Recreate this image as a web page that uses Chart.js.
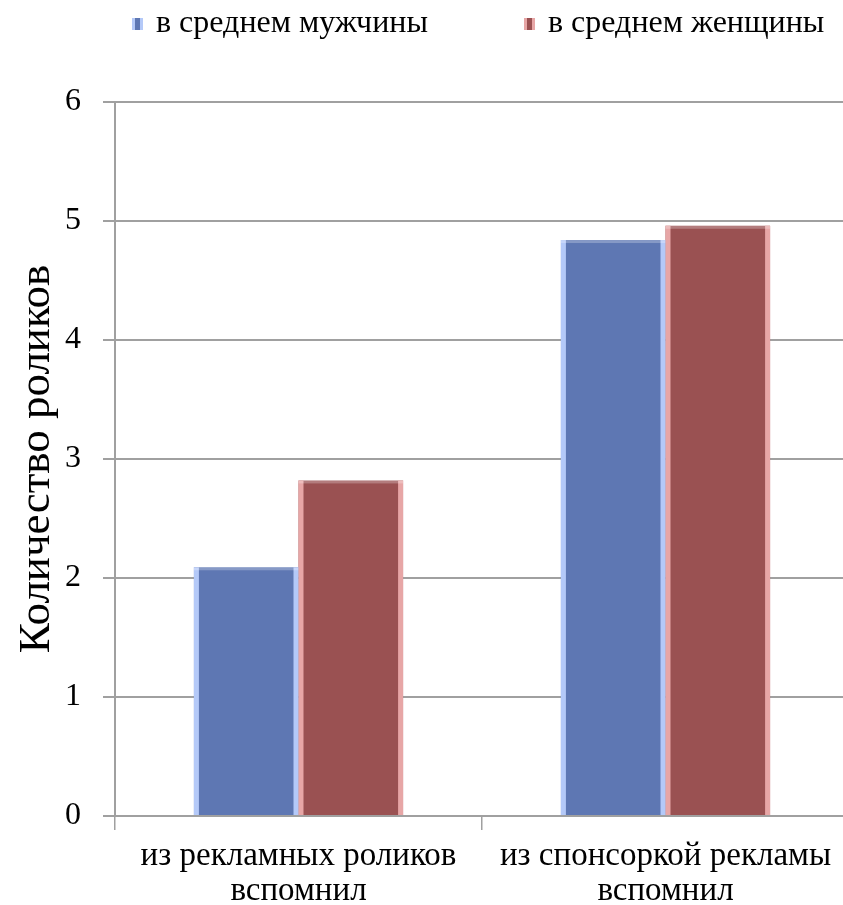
<!DOCTYPE html>
<html>
<head>
<meta charset="utf-8">
<script src="https://cdn.jsdelivr.net/npm/chart.js@4"></script>
<style>
  html, body { margin: 0; padding: 0; background: #fff; overflow: hidden; }
  #wrap { width: 843px; height: 905px; overflow: hidden; }
</style>
</head>
<body>
<div id="wrap"><canvas id="chartCanvas" width="851" height="905"></canvas></div>
<script>
// данные с картинки
const categories = [['из рекламных роликов', 'вспомнил'], ['из спонсоркой рекламы', 'вспомнил']]
const seriesNames = ['в среднем мужчины', 'в среднем женщины']
const men = [2.09, 4.84]
const women = [2.82, 4.96]
const yTicks = [0, 1, 2, 3, 4, 5, 6]

const serif = '"Liberation Serif", "DejaVu Serif", serif'
const colors = ['#5e77b3', '#9a5152']
const lightColors = ['rgba(190,210,255,0.9)', 'rgba(240,175,175,0.9)']

// светлая кайма по краям столбцов (скос как в Excel)
const bevel = {
  id: 'bevel',
  afterDatasetsDraw(chart) {
    const ctx = chart.ctx
    chart.data.datasets.forEach((ds, i) => {
      chart.getDatasetMeta(i).data.forEach(bar => {
        const l = bar.x - bar.width / 2, r = bar.x + bar.width / 2
        const t = bar.y, b = bar.base
        ctx.save()
        ctx.fillStyle = lightColors[i]
        ctx.fillRect(l, t, 5, b - t)
        ctx.fillRect(r - 5, t, 5, b - t)
        ctx.fillStyle = 'rgba(255,255,255,0.25)'
        ctx.fillRect(l, t, r - l, 3)
        ctx.restore()
      })
    })
  }
}

// своя легенда сверху, чтобы расстояние между пунктами было как на картинке
const topLegend = {
  id: 'topLegend',
  afterDraw(chart) {
    const ctx = chart.ctx
    const xs = [132, 524]
    const y = 24
    ctx.save()
    ctx.font = '32px ' + serif
    ctx.textBaseline = 'middle'
    chart.data.datasets.forEach((ds, i) => {
      ctx.fillStyle = ds.backgroundColor
      ctx.fillRect(xs[i], y - 6, 11, 12)
      ctx.fillStyle = lightColors[i]
      ctx.fillRect(xs[i], y - 6, 3, 12)
      ctx.fillRect(xs[i] + 8, y - 6, 3, 12)
      ctx.fillStyle = '#000'
      ctx.fillText(ds.label, xs[i] + 24, y)
    })
    ctx.restore()
  }
}

const chart = new Chart(document.getElementById('chartCanvas'), {
  type: 'bar',
  data: {
    labels: categories,
    datasets: [
      { label: seriesNames[0], data: men, backgroundColor: colors[0] },
      { label: seriesNames[1], data: women, backgroundColor: colors[1] }
    ]
  },
  options: {
    responsive: false,
    animation: false,
    layout: { padding: { left: 10, right: 2, top: 102, bottom: 0 } },
    datasets: { bar: { categoryPercentage: 0.57, barPercentage: 1.0 } },
    plugins: {
      legend: { display: false },
      tooltip: { enabled: false }
    },
    scales: {
      x: {
        afterFit(axis) { axis.height = 89 },
        grid: { drawOnChartArea: false, color: '#a0a0a0', lineWidth: 1.5, tickLength: 14, offset: true },
        border: { color: '#a0a0a0', width: 2 },
        ticks: { color: '#000', font: { family: serif, size: 33, lineHeight: 1.05 }, padding: 9, maxRotation: 0 }
      },
      y: {
        min: 0,
        max: 6,
        afterBuildTicks(axis) { axis.ticks = yTicks.map(v => ({ value: v })) },
        afterFit(axis) { axis.width = 105 },
        grid: { color: '#a0a0a0', lineWidth: 2, tickLength: 12 },
        border: { color: '#a0a0a0', width: 2 },
        ticks: { color: '#000', font: { family: serif, size: 32 }, padding: 22 },
        title: {
          display: true,
          text: 'Количество роликов',
          color: '#000',
          font: { family: serif, size: 45 },
          padding: 0
        }
      }
    }
  },
  plugins: [bevel, topLegend]
})
</script>
</body>
</html>
